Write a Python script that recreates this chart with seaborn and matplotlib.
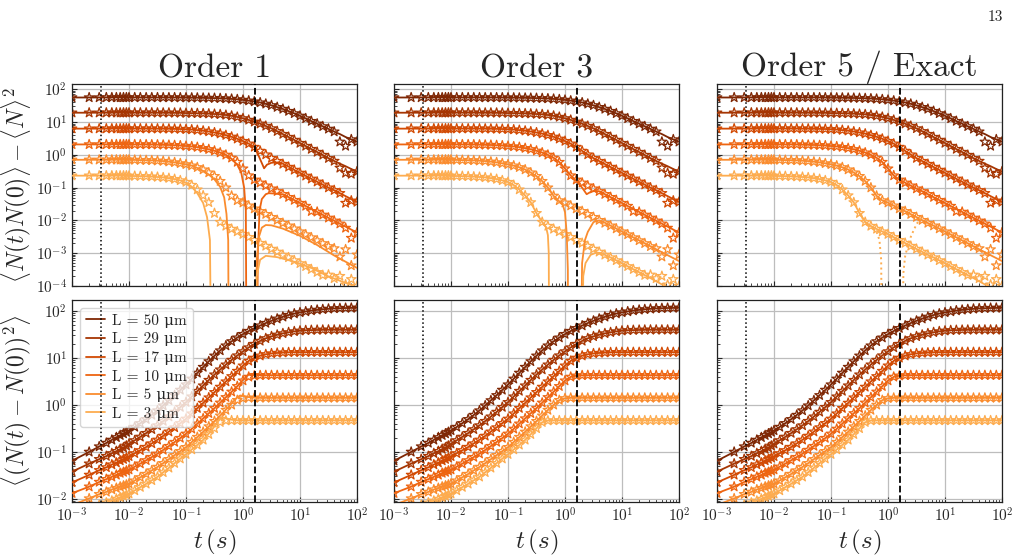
import numpy as np
import pandas as pd
import matplotlib
matplotlib.use("Agg")
import matplotlib.pyplot as plt
import seaborn as sns

# ---------------- data ----------------
LABELS = ["L = 50 μm", "L = 29 μm", "L = 17 μm", "L = 10 μm", "L = 5 μm", "L = 3 μm"]
COLORS = ["#7f2704", "#a63603", "#d24a03", "#ee6511", "#fa8c2e", "#fdac4f"]
TITLES = ["Order 1", "Order 3", "Order 5 / Exact"]
T_DOTTED = 3.2e-3
T_DASHED = 1.6

T = [0.001, 0.002, 0.003, 0.004, 0.005, 0.006, 0.007, 0.008, 0.009,
     0.01, 0.0126, 0.0158, 0.02, 0.0251, 0.0316, 0.0398, 0.0501, 0.0631, 0.0794,
     0.1, 0.126, 0.158, 0.2, 0.251, 0.316, 0.398, 0.501, 0.631, 0.794, 1.0,
     1.26, 1.58, 2.0, 2.51, 3.16, 3.98, 5.01, 6.31, 7.94, 10.0,
     12.6, 15.8, 20.0, 25.1, 31.6, 39.8, 50.1, 63.1, 79.4, 100.0]

# top row: <N(t)N(0)> - <N>^2  (exact curves)
C_50 = [56.2, 56.2, 56.2, 56.2, 56.2, 56.2, 56.2, 56.2, 56.2,
        56.2, 56.2, 56.2, 56.2, 56.2, 56.1, 56.1, 56.0, 56.0, 55.8,
        55.6, 55.3, 55.1, 54.7, 54.3, 53.8, 53.1, 52.1, 50.8, 49.2, 47.3,
        44.9, 42.2, 39.4, 35.9, 32.4, 28.5, 25.1, 21.6, 18.4, 15.5,
        12.9, 10.7, 8.9, 7.4, 6.2, 5.1, 4.3, 3.5, 2.95, 2.5]
C_29 = [19.3, 19.3, 19.3, 19.3, 19.3, 19.3, 19.3, 19.3, 19.3,
        19.3, 19.3, 19.3, 19.3, 19.3, 19.2, 19.2, 19.2, 19.1, 19.1,
        18.8, 18.7, 18.5, 18.3, 18.0, 17.6, 17.2, 16.4, 15.5, 14.3, 13.0,
        11.6, 10.2, 8.9, 7.6, 6.4, 5.25, 4.3, 3.5, 2.85, 2.29,
        1.86, 1.5, 1.22, 0.99, 0.79, 0.65, 0.54, 0.45, 0.37, 0.31]
C_17 = [6.31, 6.31, 6.31, 6.31, 6.31, 6.31, 6.31, 6.31, 6.31,
        6.31, 6.31, 6.31, 6.31, 6.30, 6.28, 6.27, 6.24, 6.19, 6.14,
        6.03, 5.89, 5.69, 5.43, 5.13, 4.79, 4.42, 3.98, 3.55, 3.09, 2.63,
        2.19, 1.74, 1.32, 1.02, 0.794, 0.646, 0.525, 0.427, 0.347, 0.282,
        0.229, 0.186, 0.151, 0.123, 0.1, 0.0832, 0.0676, 0.055, 0.0447, 0.0363]
C_10 = [2.08, 2.08, 2.08, 2.08, 2.08, 2.08, 2.08, 2.08, 2.08,
        2.08, 2.07, 2.07, 2.07, 2.06, 2.04, 2.02, 2.0, 1.96, 1.92,
        1.86, 1.80, 1.72, 1.60, 1.48, 1.33, 1.17, 1.0, 0.813, 0.603, 0.380,
        0.234, 0.174, 0.141, 0.115, 0.0933, 0.0776, 0.0631, 0.0513, 0.0417, 0.0339,
        0.0275, 0.0224, 0.0182, 0.0148, 0.0120, 0.00977, 0.00794, 0.00646, 0.00525, 0.00427]
C_5 = [0.708, 0.708, 0.708, 0.708, 0.708, 0.708, 0.708, 0.708, 0.708,
       0.708, 0.700, 0.692, 0.684, 0.676, 0.661, 0.646, 0.617, 0.589, 0.550,
       0.513, 0.468, 0.417, 0.355, 0.288, 0.224, 0.158, 0.1, 0.0562, 0.0407, 0.0347,
       0.0282, 0.0229, 0.0191, 0.0155, 0.0126, 0.0102, 0.00832, 0.00692, 0.00562, 0.00457,
       0.00372, 0.00302, 0.00245, 0.002, 0.00162, 0.00132, 0.00107, 0.00087, 0.000708, 0.000575]
C_3 = [0.232, 0.232, 0.232, 0.232, 0.232, 0.232, 0.232, 0.232, 0.232,
       0.229, 0.226, 0.224, 0.221, 0.216, 0.211, 0.204, 0.195, 0.182, 0.166,
       0.148, 0.120, 0.0871, 0.0575, 0.0355, 0.0166, 0.00891, 0.00676, 0.0055, 0.00457, 0.0038,
       0.00309, 0.00251, 0.00204, 0.00166, 0.00135, 0.0011, 0.000891, 0.000741, 0.000603, 0.00049,
       0.000398, 0.000324, 0.000263, 0.000214, 0.000174, 0.000138, 0.000112, 0.0000891, 0.0000708, 0.0000562]

# simulation stars that scatter away from the exact curve in the long-time tail
# {series index: {index into T: value}}
STAR_SCATTER_TOP = {
    0: {46: 2.5, 47: 1.86},
    1: {46: 0.40, 47: 0.28, 48: 0.26},
    2: {47: 0.034, 48: 0.040},
    3: {41: 0.019, 47: 0.0059, 48: 0.0029},
    4: {45: 0.0014, 46: 0.00078, 47: 0.0013, 48: 0.00042, 49: 0.0009},
    5: {44: 0.00022, 45: 0.00017, 46: 0.0002, 47: 0.00011, 48: 0.00016, 49: 0.0001},
}

# bottom row: <(N(t) - N(0))^2>
M_50 = [0.0646, 0.1, 0.130, 0.155, 0.180, 0.204, 0.226, 0.245, 0.264,
        0.286, 0.339, 0.407, 0.495, 0.610, 0.759, 0.966, 1.245, 1.60, 2.08,
        2.70, 3.59, 4.79, 6.38, 8.41, 11.1, 14.3, 18.2, 22.4, 26.9, 32.0,
        37.2, 42.7, 48.5, 55.0, 61.4, 67.9, 74.6, 81.3, 87.1, 92.3,
        96.6, 101.2, 104.7, 107.6, 110.2, 112.2, 113.5, 114.8, 115.3, 115.9]
M_29 = [0.038, 0.0562, 0.070, 0.0813, 0.0933, 0.1035, 0.115, 0.123, 0.135,
        0.149, 0.176, 0.209, 0.251, 0.302, 0.365, 0.452, 0.562, 0.708, 0.897,
        1.14, 1.50, 1.97, 2.57, 3.37, 4.40, 5.62, 7.16, 9.02, 11.2, 13.7,
        16.6, 19.7, 22.9, 26.0, 28.6, 30.9, 33.1, 34.9, 36.5, 37.7,
        38.5, 38.9, 39.2, 39.4, 39.5, 39.5, 39.5, 39.5, 39.5, 39.5]
M_17 = [0.0224, 0.0324, 0.0407, 0.0468, 0.0537, 0.0589, 0.0653, 0.070, 0.075,
        0.0804, 0.0933, 0.108, 0.127, 0.151, 0.181, 0.219, 0.269, 0.331, 0.407,
        0.505, 0.653, 0.851, 1.10, 1.43, 1.86, 2.41, 3.13, 4.05, 5.25, 6.82,
        8.61, 10.0, 11.1, 11.9, 12.4, 12.7, 12.9, 13.1, 13.2, 13.2,
        13.2, 13.2, 13.2, 13.2, 13.2, 13.2, 13.2, 13.2, 13.2, 13.2]
M_10 = [0.0132, 0.0182, 0.0229, 0.0263, 0.0295, 0.0324, 0.0355, 0.0372, 0.0398,
        0.0419, 0.0484, 0.0562, 0.0661, 0.0776, 0.0914, 0.110, 0.133, 0.162, 0.197,
        0.243, 0.309, 0.398, 0.513, 0.661, 0.849, 1.11, 1.45, 1.90, 2.49, 3.28,
        3.94, 4.17, 4.24, 4.27, 4.27, 4.27, 4.27, 4.27, 4.27, 4.27,
        4.27, 4.27, 4.27, 4.27, 4.27, 4.27, 4.27, 4.27, 4.27, 4.27]
M_5 = [0.00741, 0.0102, 0.0126, 0.0141, 0.0158, 0.0170, 0.0182, 0.0191, 0.020,
       0.0211, 0.0245, 0.0288, 0.0339, 0.0403, 0.0479, 0.0575, 0.070, 0.0851, 0.1035,
       0.126, 0.162, 0.207, 0.267, 0.347, 0.451, 0.589, 0.776, 1.0, 1.26, 1.38,
       1.41, 1.41, 1.41, 1.41, 1.41, 1.41, 1.41, 1.41, 1.41, 1.41,
       1.41, 1.41, 1.41, 1.41, 1.41, 1.41, 1.41, 1.41, 1.41, 1.41]
M_3 = [0.00398, 0.00589, 0.00741, 0.00832, 0.00912, 0.01, 0.0108, 0.0115, 0.0122,
       0.0129, 0.0151, 0.0178, 0.0209, 0.0248, 0.0295, 0.0367, 0.0457, 0.0575, 0.0716,
       0.0891, 0.112, 0.141, 0.180, 0.237, 0.316, 0.427, 0.462, 0.466, 0.466, 0.466,
       0.466, 0.466, 0.466, 0.466, 0.466, 0.466, 0.466, 0.466, 0.466, 0.466,
       0.466, 0.466, 0.466, 0.466, 0.466, 0.466, 0.466, 0.466, 0.466, 0.466]

NAN = float("nan")
# low-order approximations that depart from the exact curve:
# (keep exact for t <= t_lo, use these points, resume exact for t > t_hi)
O1_TOP_17 = dict(t_lo=1.58, t_hi=6.31,
                 t=[1.905, 2.138, 2.344, 2.63, 3.162, 3.981, 5.012, 6.31],
                 v=[0.891, 0.562, 0.389, 0.501, 0.575, 0.589, 0.537, 0.44])
O1_TOP_10 = dict(t_lo=0.501, t_hi=4.467,
                 t=[0.631, 0.794, 0.933, 1.047, 1.122, 1.161, 1.3, 1.738, 1.82, 1.95, 2.138, 2.512, 2.818, 3.548, 4.467],
                 v=[0.759, 0.501, 0.282, 0.1, 0.02, 1e-8, NAN, 1e-8, 0.001, 0.02, 0.0447, 0.0631, 0.0676, 0.0661, 0.0631])
O1_TOP_5 = dict(t_lo=0.126, t_hi=100.0,
                t=[0.158, 0.2, 0.251, 0.316, 0.398, 0.468, 0.513, 0.55, 0.569, 1.0, 1.66, 1.738, 1.905, 2.138, 2.512, 3.162, 5.012, 10.0, 19.95, 39.81, 100.0],
                v=[0.398, 0.324, 0.251, 0.178, 0.105, 0.0501, 0.0158, 0.00251, 1e-8, NAN, 1e-8, 0.000631, 0.00316, 0.00603, 0.00724, 0.00708, 0.00562, 0.00339, 0.00178, 0.000851, 0.000355])
O1_TOP_3 = dict(t_lo=0.0794, t_hi=100.0,
                t=[0.1, 0.126, 0.158, 0.2, 0.234, 0.263, 0.282, 1.0, 1.622, 1.738, 1.995, 2.512, 3.981, 7.943, 15.85, 31.62, 79.43, 100.0],
                v=[0.141, 0.107, 0.0676, 0.0339, 0.0126, 0.00251, 1e-8, NAN, 1e-8, 0.0002, 0.000631, 0.000832, 0.000759, 0.00055, 0.000355, 0.000195, 0.000107, 0.0000891])
O3_TOP_10 = dict(t_lo=1.26, t_hi=3.311,
                 t=[1.585, 1.995, 2.399, 2.818, 3.311],
                 v=[0.158, 0.1, 0.0631, 0.0741, 0.0794])
O3_TOP_5 = dict(t_lo=0.631, t_hi=5.012,
                t=[0.794, 0.912, 1.0, 1.072, 1.122, 1.148, 1.5, 1.862, 1.995, 2.239, 2.512, 3.162, 3.981, 5.012],
                v=[0.038, 0.0302, 0.0178, 0.00398, 0.000316, 1e-8, NAN, 1e-8, 0.000501, 0.00251, 0.00447, 0.00891, 0.01, 0.00851])
O3_TOP_3 = dict(t_lo=0.398, t_hi=4.467,
                t=[0.468, 0.501, 0.519, 0.531, 1.0, 1.95, 2.089, 2.291, 2.818, 3.548, 4.467],
                v=[0.00603, 0.00355, 0.001, 1e-8, NAN, 1e-8, 0.0002, 0.000501, 0.000891, 0.00105, 0.001])
O5_DOTTED_3 = dict(t=[0.316, 0.398, 0.501, 0.631, 0.708, 0.759, 0.794, 1.2, 1.738, 1.862, 1.995, 2.239, 2.512, 2.818, 3.162, 3.631, 4.169],
                   v=[0.0166, 0.00891, 0.00631, 0.00447, 0.00251, 0.000631, 1e-8, NAN, 1e-8, 0.000251, 0.000794, 0.00178, 0.00316, 0.00501, 0.00759, 0.0112, 0.0132])
O1_BOT_10 = dict(t_lo=0.794, t_hi=1.995, t=[1.0, 1.259, 1.413, 1.585, 1.995], v=[3.39, 4.42, 4.57, 4.47, 4.32])
O1_BOT_5 = dict(t_lo=0.398, t_hi=1.585, t=[0.501, 0.631, 0.794, 0.891, 1.0, 1.259, 1.585], v=[0.794, 1.07, 1.45, 1.585, 1.55, 1.46, 1.42])
O1_BOT_3 = dict(t_lo=0.2, t_hi=0.794, t=[0.251, 0.316, 0.398, 0.447, 0.501, 0.631, 0.794], v=[0.245, 0.347, 0.525, 0.543, 0.519, 0.484, 0.468])

TOP = [C_50, C_29, C_17, C_10, C_5, C_3]
BOT = [M_50, M_29, M_17, M_10, M_5, M_3]

# ---------------- helpers ----------------
def splice(base, dev):
    ts = [t for t in T if t <= dev["t_lo"]]
    vs = [v for t, v in zip(T, base) if t <= dev["t_lo"]]
    ts += list(dev["t"])
    vs += list(dev["v"])
    ts += [t for t in T if t > dev["t_hi"]]
    vs += [v for t, v in zip(T, base) if t > dev["t_hi"]]
    return ts, vs


def draw_line(ax, ts, vs, color, ls="-", lw=1.3, label=None, z=3):
    df = pd.DataFrame({"t": ts, "v": vs})
    ok = df["v"].notna()
    seg_id = (~ok).cumsum()
    first = True
    for _, seg in df[ok].groupby(seg_id[ok]):
        sns.lineplot(data=seg, x="t", y="v", ax=ax, color=color, linestyle=ls,
                     linewidth=lw, estimator=None, sort=False, errorbar=None,
                     label=label if first else None, zorder=z)
        first = False


def draw_stars(ax, vals, color, scatter=None):
    vals = list(vals)
    if scatter:
        for k, v in scatter.items():
            vals[k] = v
    df = pd.DataFrame({"t": T, "v": vals})
    sns.scatterplot(data=df, x="t", y="v", ax=ax, marker="*", s=52,
                    facecolor="none", edgecolor=color, linewidth=0.9, zorder=2,
                    legend=False)

# ---------------- style ----------------
sns.set_style("ticks")
plt.rcParams.update({
    "font.family": ["cmr10", "DejaVu Serif"],
    "mathtext.fontset": "cm",
    "axes.formatter.use_mathtext": True,
    "xtick.direction": "in",
    "ytick.direction": "in",
    "axes.edgecolor": "#222222",
    "axes.linewidth": 0.9,
    "xtick.labelsize": 11,
    "ytick.labelsize": 11,
})

fig = plt.figure(figsize=(10.23, 5.57), dpi=100)
lefts = [72 / 1023, 394 / 1023, 717 / 1023]
w = 285 / 1023
h = 202 / 557
bottoms = [(557 - 286) / 557, (557 - 502) / 557]

axes = [[fig.add_axes([l, b, w, h]) for l in lefts] for b in bottoms]

top_dev = {
    0: {2: O1_TOP_17, 3: O1_TOP_10, 4: O1_TOP_5, 5: O1_TOP_3},
    1: {3: O3_TOP_10, 4: O3_TOP_5, 5: O3_TOP_3},
    2: {},
}
bot_dev = {0: {3: O1_BOT_10, 4: O1_BOT_5, 5: O1_BOT_3}, 1: {}, 2: {}}

for col in range(3):
    ax_t = axes[0][col]
    ax_b = axes[1][col]
    for i in range(6):
        draw_stars(ax_t, TOP[i], COLORS[i], STAR_SCATTER_TOP.get(i))
        draw_stars(ax_b, BOT[i], COLORS[i])
    for i in range(6):
        if i in top_dev[col]:
            ts, vs = splice(TOP[i], top_dev[col][i])
        else:
            ts, vs = T, TOP[i]
        draw_line(ax_t, ts, vs, COLORS[i])
        if i in bot_dev[col]:
            ts, vs = splice(BOT[i], bot_dev[col][i])
        else:
            ts, vs = T, BOT[i]
        draw_line(ax_b, ts, vs, COLORS[i], label=LABELS[i] if col == 0 else None)
    if col == 2:
        draw_line(ax_t, O5_DOTTED_3["t"], O5_DOTTED_3["v"], COLORS[5], ls=":", lw=1.4)

    for ax, ylim in ((ax_t, (1e-4, 1.45e2)), (ax_b, (8.6e-3, 1.7e2))):
        ax.set_xscale("log")
        ax.set_yscale("log")
        ax.set_xlim(1e-3, 1e2)
        ax.grid(True, which="major", color="#bdbdbd", linewidth=0.9)
        ax.axvline(T_DOTTED, color="black", linestyle=":", linewidth=1.1, zorder=6)
        ax.axvline(T_DASHED, color="black", linestyle="--", linewidth=1.3, zorder=6)
        ax.set_xlabel("")
        ax.set_ylabel("")
        ax.tick_params(which="both", top=False, right=False)
        ax.set_xticks([1e-3, 1e-2, 1e-1, 1e0, 1e1, 1e2])
        if col > 0:
            ax.tick_params(labelleft=False)
    ax_t.set_yticks([1e-4, 1e-3, 1e-2, 1e-1, 1e0, 1e1, 1e2])
    ax_t.set_ylim(1e-4, 1.45e2)
    ax_b.set_yticks([1e-2, 1e-1, 1e0, 1e1, 1e2])
    ax_b.set_ylim(8.6e-3, 1.7e2)
    ax_t.tick_params(labelbottom=False)
    ax_t.set_title(TITLES[col], fontsize=24, pad=4)
    ax_b.set_xlabel(r"$t\,(s)$", fontsize=18, labelpad=2)
    if col > 0:
        ax_b.legend_ = None
        ax_t.legend_ = None

axes[0][0].set_ylabel(r"$\langle N(t)N(0)\rangle - \langle N\rangle^2$", fontsize=17, labelpad=2)
axes[1][0].set_ylabel(r"$\langle (N(t) - N(0))^2\rangle$", fontsize=17, labelpad=2)

axes[1][0].legend(loc="upper left", fontsize=11, handlelength=1.25,
                  handletextpad=0.5, framealpha=0.8, borderaxespad=0.5,
                  labelspacing=0.3, borderpad=0.4)

fig.text(1003 / 1023, 1 - 10 / 557, "13", ha="right", va="top", fontsize=11)

fig.savefig("out.png", dpi=100)
